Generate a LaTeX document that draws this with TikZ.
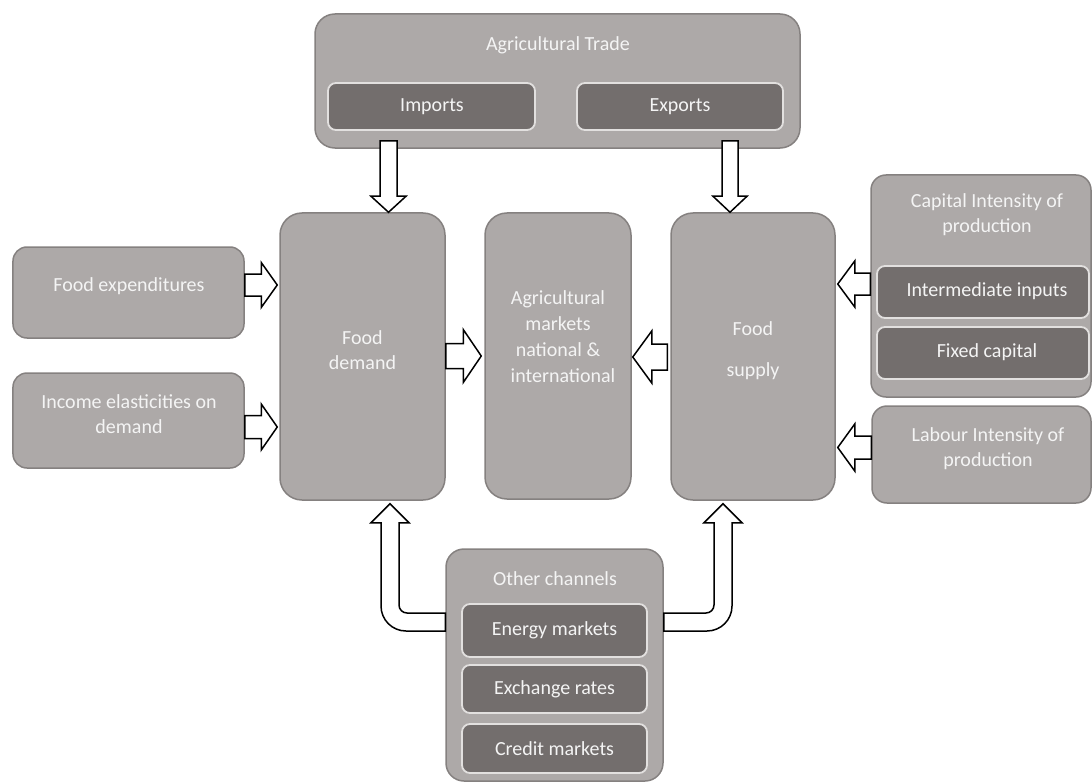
\documentclass[tikz,border=0pt]{standalone}
\usepackage{fontspec}
\setmainfont{Carlito}
\usetikzlibrary{calc}
\definecolor{lightc}{HTML}{ADA9A8}
\definecolor{bordc}{HTML}{858180}
\definecolor{darkc}{HTML}{736E6D}
\definecolor{dbordc}{HTML}{E2E0DF}
\definecolor{txtc}{HTML}{F4F4F4}
\tikzset{
  lbox/.style={draw=bordc, line width=1.5bp, fill=lightc, inner sep=0pt},
  dbox/.style={draw=dbordc, line width=1.8bp, fill=darkc, inner sep=0pt, rounded corners=8bp},
  txt/.style={text=txtc, font=\fontsize{20bp}{25bp}\selectfont, align=center, inner sep=0pt},
  blk/.style={draw=black, line width=1.5bp, fill=white, line join=miter},
}
% horizontal block arrow: start, tip, half shaft, half head, signed head length
\newcommand\arrH[5]{\draw[blk] let \p1=#1, \p2=#2, \n1={#5} in
  ({\x1},{\y2+#3}) -- ({\x2-\n1},{\y2+#3}) -- ({\x2-\n1},{\y2+#4}) -- (\x2,\y2) -- ({\x2-\n1},{\y2-#4}) -- ({\x2-\n1},{\y2-#3}) -- ({\x1},{\y2-#3}) -- cycle;}
% vertical block arrow: start, tip, half shaft, half head, signed head length (canvas)
\newcommand\arrV[5]{\draw[blk] let \p1=#1, \p2=#2, \n1={#5} in
  ({\x2+#3},{\y1}) -- ({\x2+#3},{\y2+\n1}) -- ({\x2+#4},{\y2+\n1}) -- (\x2,\y2) -- ({\x2-#4},{\y2+\n1}) -- ({\x2-#3},{\y2+\n1}) -- ({\x2-#3},{\y1}) -- cycle;}
\begin{document}
\begin{tikzpicture}[x=1bp, y={(0bp,-1bp)}]
\useasboundingbox (0,0) rectangle (1092,783);

% Agricultural trade
\node[lbox, rounded corners=20bp, minimum width=485bp, minimum height=134bp] (trade) at (557.5,81) {};
\node[txt] (tradeT) at (558,45) {Agricultural Trade};
\node[dbox, minimum width=207bp, minimum height=47bp] (imp) at (431.5,106.5) {};
\node[txt] (impT) at (432,107) {Imports};
\node[dbox, minimum width=206bp, minimum height=47bp] (exp) at (680,106.5) {};
\node[txt] (expT) at (680,107) {Exports};

% central column
\node[lbox, rounded corners=22bp, minimum width=165bp, minimum height=287bp] (dem) at (362.5,356.5) {};
\node[txt] (demT) at (362.5,350) {Food\\demand};
\node[lbox, rounded corners=22bp, minimum width=146bp, minimum height=286bp] (mkt) at (558,356) {};
\node[txt, font=\fontsize{20bp}{26bp}\selectfont] (mktT) at (558,337) {Agricultural\\markets\\national \&\\\hspace*{10bp}international};
\node[lbox, rounded corners=22bp, minimum width=164bp, minimum height=287bp] (sup) at (753,356.5) {};
\node[txt] (supT) at (753,350.5) {Food\\[16bp]supply};

% left boxes
\node[lbox, rounded corners=14bp, minimum width=231bp, minimum height=91bp] (fe) at (128.5,292.5) {};
\node[txt] (feT) at (129,286) {Food expenditures};
\node[lbox, rounded corners=14bp, minimum width=231bp, minimum height=95bp] (ie) at (128.5,420.5) {};
\node[txt] (ieT) at (129,414.5) {Income elasticities on\\demand};

% right boxes
\node[lbox, rounded corners=15bp, minimum width=220bp, minimum height=222bp] (cap) at (981,286) {};
\node[txt] (capT) at (987,215) {Capital Intensity of\\production};
\node[dbox, minimum width=212bp, minimum height=52bp] (ii) at (983,292) {};
\node[txt] (iiT) at (987,291) {Intermediate inputs};
\node[dbox, minimum width=212bp, minimum height=52bp] (fc) at (983,353) {};
\node[txt] (fcT) at (987,352) {Fixed capital};
\node[lbox, rounded corners=15bp, minimum width=219bp, minimum height=97bp] (lab) at (981.5,454.5) {};
\node[txt] (labT) at (988,448.5) {Labour Intensity of\\production};

% other channels
\node[lbox, rounded corners=18bp, minimum width=217bp, minimum height=232bp] (oc) at (554.5,665) {};
\node[txt] (ocT) at (555,579) {Other channels};
\node[dbox, minimum width=185bp, minimum height=53bp] (en) at (554.5,630.5) {};
\node[txt] (enT) at (554.5,630.5) {Energy markets};
\node[dbox, minimum width=185bp, minimum height=48bp] (ex) at (554.5,689) {};
\node[txt] (exT) at (554.5,689.5) {Exchange rates};
\node[dbox, minimum width=185bp, minimum height=49bp] (cr) at (554.5,748.5) {};
\node[txt] (crT) at (554.5,748.5) {Credit markets};

% trade arrows
\coordinate (impA) at ($(imp.south)+(-43,10)$);
\coordinate (expA) at ($(exp.south)+(50,10)$);
\arrV{(impA)}{(impA |- dem.north)}{8.5bp}{17.5bp}{16bp}
\arrV{(expA)}{(expA |- sup.north)}{8bp}{17bp}{16bp}

% horizontal arrows
\arrH{(fe.east)}{($(dem.west |- fe.east)+(-2,-7.5)$)}{11bp}{22.5bp}{16bp}
\arrH{(ie.east)}{($(dem.west |- ie.east)+(-2,6.5)$)}{11.5bp}{23bp}{16bp}
\arrH{(dem.east)}{($(mkt.west)+(-3,0)$)}{12.5bp}{26.5bp}{18bp}
\arrH{($(sup.west)+(-3,0)$)}{($(mkt.east)+(1,1)$)}{13bp}{26bp}{-19bp}
\arrH{(cap.west)}{($(sup.east |- cap.west)+(2,-2)$)}{11bp}{23bp}{-17bp}
\arrH{(lab.west)}{($(sup.east |- lab.west)+(2,-7)$)}{11.5bp}{23.5bp}{-17bp}

% bent arrows from other channels
\coordinate (ocL) at ($(oc.west)+(0,-43)$);
\coordinate (ocR) at ($(oc.east)+(0,-43)$);
\coordinate (demB) at ($(dem.south)+(27.5,3)$);
\coordinate (supB) at ($(sup.south)+(-30,3)$);
\draw[blk] let \p1=(ocL), \p2=(demB) in
  ({\x1},{\y1+9bp}) -- ({\x2+17bp},{\y1+9bp}) arc[start angle=270, end angle=180, radius=8bp]
  -- ({\x2+9bp},{\y2-19bp}) -- ({\x2+19bp},{\y2-19bp}) -- (\x2,\y2) -- ({\x2-19bp},{\y2-19bp}) -- ({\x2-9bp},{\y2-19bp})
  -- ({\x2-9bp},{\y1+16bp}) arc[start angle=180, end angle=270, radius=25bp]
  -- ({\x1},{\y1-9bp}) -- cycle;
\draw[blk] let \p1=(ocR), \p2=(supB) in
  ({\x1},{\y1+9bp}) -- ({\x2-17bp},{\y1+9bp}) arc[start angle=270, end angle=360, radius=8bp]
  -- ({\x2-9bp},{\y2-19bp}) -- ({\x2-19bp},{\y2-19bp}) -- (\x2,\y2) -- ({\x2+19bp},{\y2-19bp}) -- ({\x2+9bp},{\y2-19bp})
  -- ({\x2+9bp},{\y1+16bp}) arc[start angle=0, end angle=-90, radius=25bp]
  -- ({\x1},{\y1-9bp}) -- cycle;
\end{tikzpicture}
\end{document}
